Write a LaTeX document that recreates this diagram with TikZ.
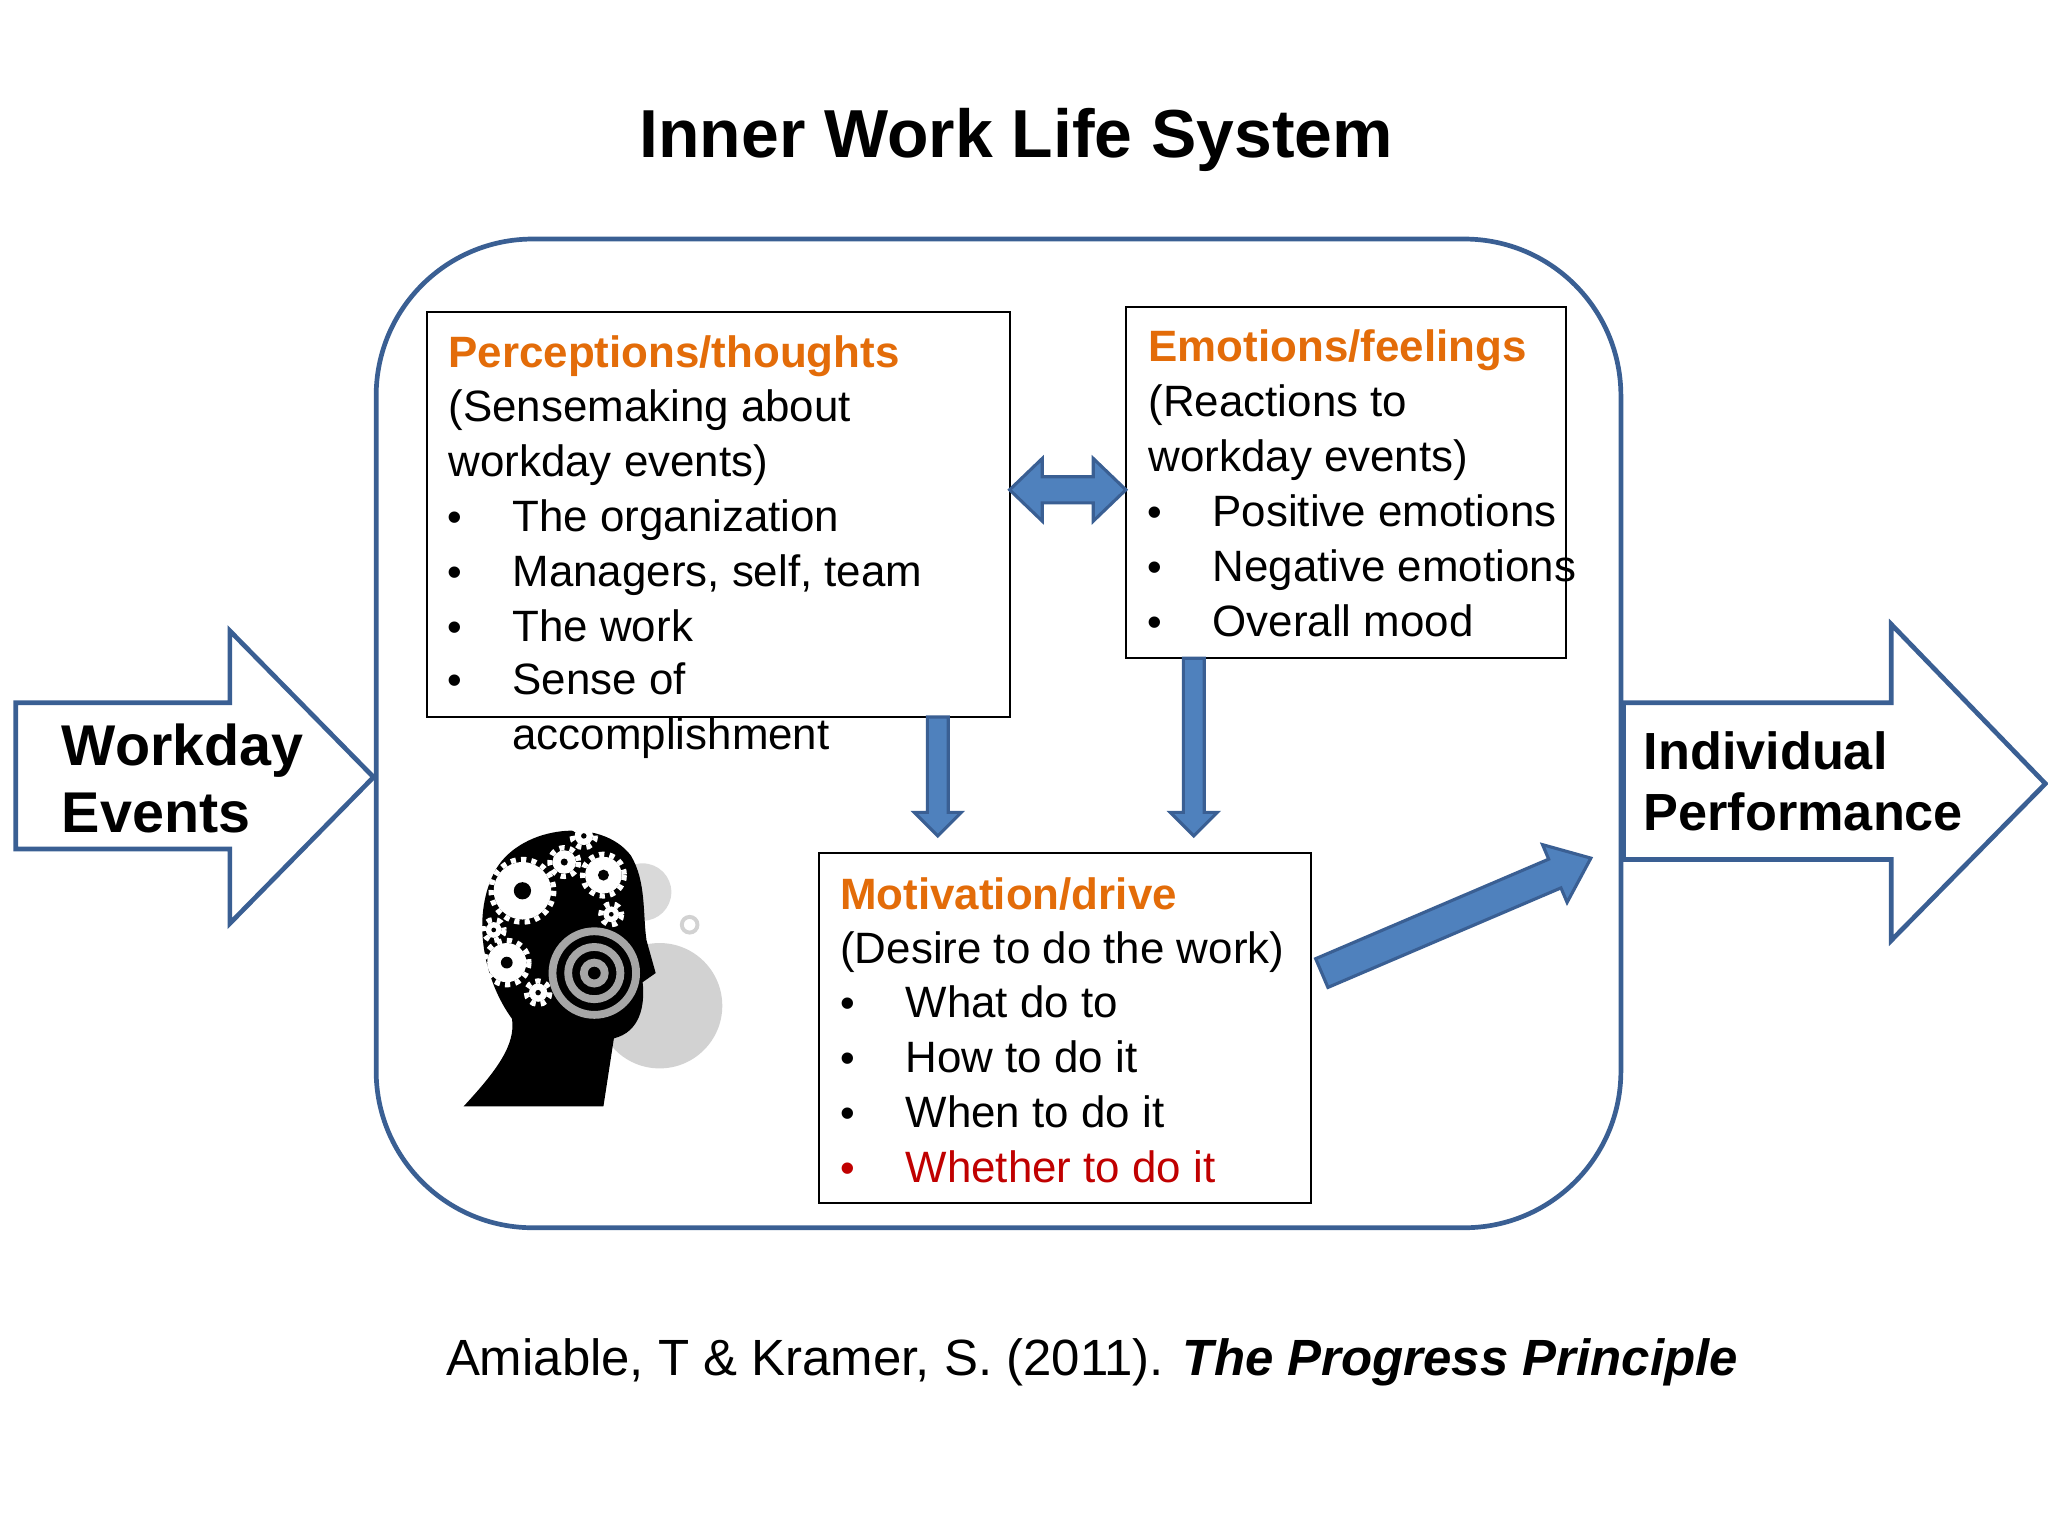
\documentclass[tikz,border=0pt]{standalone}
\usepackage{fontspec}
\setmainfont{Liberation Sans}
\definecolor{bfill}{HTML}{4F81BD}
\definecolor{bline}{HTML}{3A5F93}
\definecolor{orng}{HTML}{E36C09}
\definecolor{rd}{HTML}{C00000}
\begin{document}
\begin{tikzpicture}[x=0.5pt,y=-0.5pt,
  fat/.style={fill=bfill,draw=bline,line width=1.2pt,line join=miter},
  hollow/.style={fill=white,draw=bline,line width=1.8pt},
  box/.style={draw=black,line width=0.8pt,fill=white},
  t/.style={anchor=base west,inner sep=0,font=\fontsize{16.8}{19}\selectfont},
  hd/.style={t,font=\fontsize{16.8}{19}\selectfont\bfseries,text=orng},
  bu/.style={anchor=base west,inner sep=0,font=\fontsize{16}{19}\selectfont},
  big/.style={anchor=base west,inner sep=0,font=\fontsize{22}{26}\selectfont\bfseries},
  mid/.style={anchor=base west,inner sep=0,font=\fontsize{20}{24}\selectfont\bfseries}]
\useasboundingbox (0,0) rectangle (1568,1176);
\node[font=\fontsize{26}{30}\selectfont\bfseries] (title) at (778,107) {Inner Work Life System};
\draw[line width=1.8pt,draw=bline,rounded corners=60pt] (288,183) rectangle (1241,940);
% side arrows
\draw[hollow] (12,538)--(176,538)--(176,483)--(286,595)--(176,707)--(176,650)--(12,650)--cycle;
\node[big] (we1) at (47,586) {Workday};
\node[big] (we2) at (47,637) {Events};
\draw[hollow] (1243,538)--(1448,538)--(1448,478)--(1566,600)--(1448,720)--(1448,658)--(1243,658)--cycle;
\node[mid] (ip1) at (1258,589) {Individual};
\node[mid] (ip2) at (1258,636) {Performance};
% box 1
\draw[box] (327,239) rectangle (773,549);
\node[hd] (p1) at (343,281) {Perceptions/thoughts};
\node[t] at (343,323) {(Sensemaking about};
\node[t] at (343,365) {workday events)};
\foreach \y/\s in {407/The organization,449/{Managers, self, team},491/The work,532/Sense of,574/accomplishment}{\node[t] at (392,\y) {\s};}
\foreach \y in {407,449,491,532}{\node[bu] at (342,\y) {•};}
% box 2
\draw[box] (862,235) rectangle (1199,504);
\node[hd] (e1) at (879,277) {Emotions/feelings};
\node[t] at (879,319) {(Reactions to};
\node[t] at (879,361) {workday events)};
\foreach \y/\s in {403/Positive emotions,445/Negative emotions,487/Overall mood}{\node[t] at (928,\y) {\s};\node[bu] at (878,\y) {•};}
% box 3
\draw[box] (627,653) rectangle (1004,921);
\node[hd] (m1) at (643,696) {Motivation/drive};
\node[t] at (643,738) {(Desire to do the work)};
\foreach \y/\s in {779/What do to,821/How to do it,863/When to do it}{\node[t] at (693,\y) {\s};\node[bu] at (643,\y) {•};}
\node[t,text=rd] at (693,905) {Whether to do it};
\node[bu,text=rd] at (643,905) {•};
% fat arrows
\draw[fat] (773,375)--(798,351)--(798,365)--(837,365)--(837,351)--(862,375)--(837,399)--(837,385)--(798,385)--(798,399)--cycle;
\draw[fat] (710,549)--(726,549)--(726,622)--(736,622)--(718,640)--(700,622)--(710,622)--cycle;
\draw[fat] (906,504)--(922,504)--(922,622)--(932,622)--(914,640)--(896,622)--(906,622)--cycle;
\draw[fat] (1007.3,734.0)--(1185.7,657.8)--(1181.0,646.7)--(1218,657)--(1199.8,690.9)--(1195.1,679.8)--(1016.7,756.0)--cycle;
% head
\fill[gray!35] (505,770) circle (48);
\fill[gray!30] (492,683) circle (22);
\draw[gray!35,line width=1.5pt] (528,708) circle (6);
\fill[black] (355,847) .. controls (380,820) and (395,800) .. (392,780)
  .. controls (370,750) and (360,700) .. (380,665)
  .. controls (400,632) and (460,625) .. (483,655)
  .. controls (495,675) and (492,700) .. (495,720)
  -- (502,745) -- (492,752) .. controls (494,770) and (490,790) .. (470,795)
  -- (462,847) -- cycle;
\foreach \cx/\cy/\r in {400/682/22,388/737/15,462/670/14,432/660/9,412/760/7,447/640/7,378/712/6,468/700/6}{
  \fill[white] (\cx,\cy) circle (\r);
  \draw[white,line width=2pt,dash pattern=on 2pt off 2pt] (\cx,\cy) circle (\r+2);
  \fill[black] (\cx,\cy) circle (\r*0.3);}
\draw[gray!70,line width=3pt] (455,745) circle (8) (455,745) circle (20) (455,745) circle (32);
% citation
\node[anchor=base,inner sep=0,font=\fontsize{19.5}{23}\selectfont] (cite) at (836,1053) {Amiable, T \& Kramer, S. (2011). \textbf{\textit{The Progress Principle}}};
\end{tikzpicture}
\end{document}
